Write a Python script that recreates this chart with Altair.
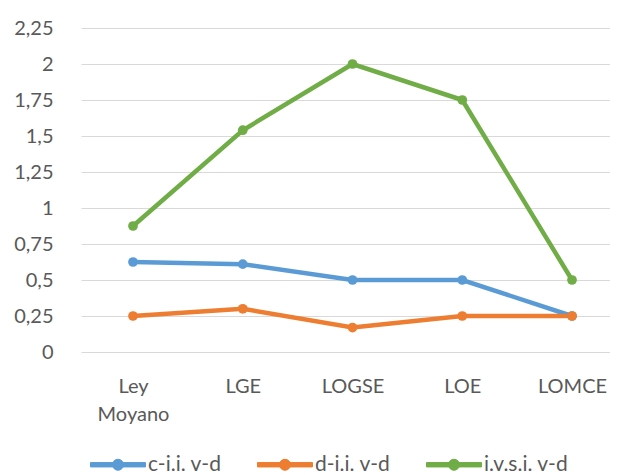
import altair as alt
import pandas as pd

categories = ["Ley Moyano", "LGE", "LOGSE", "LOE", "LOMCE"]
series_names = ["c-i.i. v-d", "d-i.i. v-d", "i.v.s.i. v-d"]
c_values = [0.625, 0.61, 0.5, 0.5, 0.25]
d_values = [0.25, 0.30, 0.17, 0.25, 0.25]
i_values = [0.875, 1.54, 2.0, 1.75, 0.5]
colors = ["#5B9BD5", "#ED7D31", "#70AD47"]
y_ticks = [0, 0.25, 0.5, 0.75, 1, 1.25, 1.5, 1.75, 2, 2.25]

rows = []
for name, vals in zip(series_names, [c_values, d_values, i_values]):
    for cat, v in zip(categories, vals):
        rows.append({"Ley": cat, "Serie": name, "Valor": v})
df = pd.DataFrame(rows)

font = "Lato"
grey = "#595959"

# line with a dot, wider than the symbol box (scale: 1 unit = 10px)
sym_path = ("M-1,-0.22H4.5V0.22H-1Z "
            "M2.3,0A0.55,0.55 0 1,1 1.2,0A0.55,0.55 0 1,1 2.3,0Z")

base = alt.Chart(df).encode(
    x=alt.X("Ley:N", sort=categories, title=None,
            scale=alt.Scale(type="point", padding=0.41, align=0.578),
            axis=alt.Axis(labelAngle=0, domain=False, ticks=False, grid=False,
                          labelFont=font, labelFontSize=20, labelColor=grey,
                          labelPadding=24, labelLineHeight=28,
                          labelExpr="split(datum.label, ' ')")),
    y=alt.Y("Valor:Q", title=None,
            scale=alt.Scale(domain=[0, 2.25], nice=False),
            axis=alt.Axis(values=y_ticks, domain=False, ticks=False,
                          gridColor="#D9D9D9", gridWidth=1,
                          labelFont=font, labelFontSize=20, labelColor=grey,
                          labelPadding=28,
                          labelExpr="replace('' + datum.value, '.', ',')")),
    color=alt.Color("Serie:N", sort=series_names,
                    scale=alt.Scale(domain=series_names, range=colors),
                    legend=alt.Legend(title=None, orient="none", direction="horizontal",
                                      legendX=9, legendY=426,
                                      symbolType=sym_path, symbolSize=400,
                                      symbolStrokeWidth=1,
                                      labelFont=font, labelFontSize=21, labelColor=grey,
                                      labelOffset=37, columnPadding=33)),
)

chart = base.mark_line(strokeWidth=4.5, point=alt.OverlayMarkDef(filled=True, size=95)).properties(
    width=529, height=324,
    autosize=alt.AutoSizeParams(type="none"),
    padding={"left": 73, "top": 20, "right": 0, "bottom": 123},
).configure_view(stroke=None)

chart.save("out.html", embed_options={"renderer": "svg", "actions": False})
